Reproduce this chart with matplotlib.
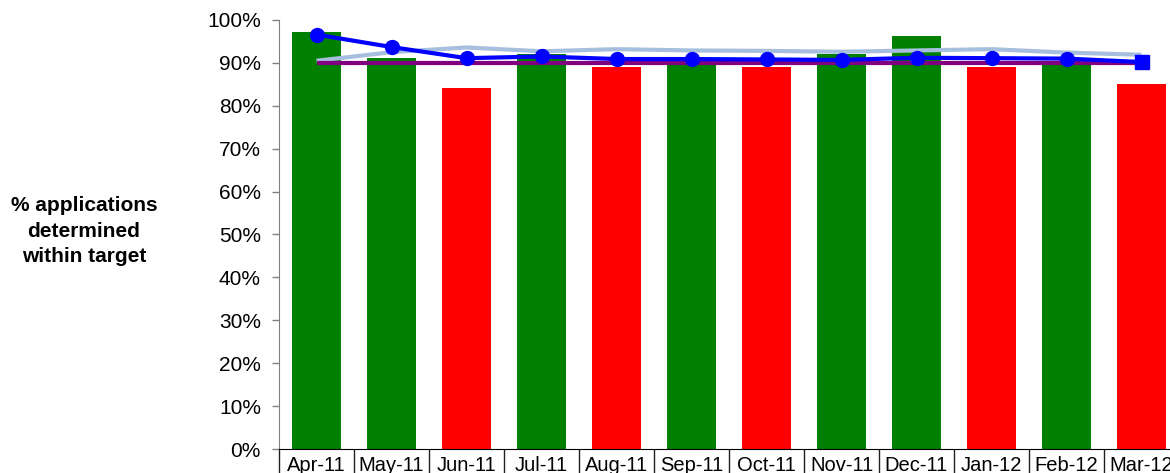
import matplotlib
matplotlib.use("Agg")
import matplotlib.pyplot as plt
import numpy as np
from matplotlib.ticker import FuncFormatter, FixedLocator

plt.rcParams['font.family'] = ['Liberation Sans', 'DejaVu Sans']

# monthly performance, cumulative year-to-date, comparison and target (%)
months = ['Apr-11', 'May-11', 'Jun-11', 'Jul-11', 'Aug-11', 'Sep-11',
          'Oct-11', 'Nov-11', 'Dec-11', 'Jan-12', 'Feb-12', 'Mar-12']
monthly = [97.2, 91.1, 84.1, 92.0, 89.0, 90.0, 89.0, 92.0, 96.2, 89.0, 90.0, 85.0]
cumulative = [96.6, 93.7, 91.1, 91.5, 90.9, 90.9, 90.8, 90.7, 91.2, 91.1, 91.0, 90.2]
comparison = [90.5, 92.5, 93.6, 92.7, 93.2, 92.9, 92.8, 92.6, 92.9, 93.2, 92.4, 91.9]
target = [90.0] * 12

GREEN = '#008000'
RED = '#FF0000'

fig = plt.figure(figsize=(11.70, 4.73), dpi=100)
ax = fig.add_axes([279 / 1170, 24 / 473, 900 / 1170, 429 / 473])

x = np.arange(len(months)) + 0.5
colors = [GREEN if v >= target[i] else RED for i, v in enumerate(monthly)]
ax.bar(x, monthly, width=0.66, color=colors, edgecolor='none', zorder=2)

ax.plot(x, comparison, color='#A7BFDE', lw=3, zorder=3, solid_capstyle='butt')
ax.plot(x, target, color='#800080', lw=3, zorder=4, solid_capstyle='butt')
ax.plot(x[:-1], cumulative[:-1], color='#0000FF', lw=3, marker='o', ms=10,
        zorder=5, solid_capstyle='butt')
ax.plot(x[-2:], cumulative[-2:], color='#0000FF', lw=3, zorder=5)
ax.plot(x[-1:], cumulative[-1:], color='#0000FF', marker='s', ms=10, ls='none',
        zorder=6)

ax.set_xlim(0, 12)
ax.set_ylim(0, 100)

ax.yaxis.set_major_locator(FixedLocator(range(0, 101, 10)))
ax.yaxis.set_major_formatter(FuncFormatter(lambda v, _: f"{int(v)}%"))
ax.tick_params(axis='y', direction='out', length=5, width=1, color='#808080',
               labelsize=15, pad=8)

# category labels sit in cells separated by long minor ticks
ax.set_xticks(x)
ax.set_xticklabels(months)
ax.set_xticks(np.arange(13), minor=True)
ax.tick_params(axis='x', which='major', length=0, labelsize=14.5, pad=5)
ax.tick_params(axis='x', which='minor', length=20, width=1, color='#202020')

for side in ['top', 'right']:
    ax.spines[side].set_visible(False)
ax.spines['left'].set_color('#808080')
ax.spines['bottom'].set_color('black')

fig.text(84 / 1170, 1 - 231 / 473, "% applications\ndetermined\nwithin target",
         ha='center', va='center', fontsize=15, fontweight='bold',
         linespacing=1.45)

fig.savefig('out.png', dpi=100)
